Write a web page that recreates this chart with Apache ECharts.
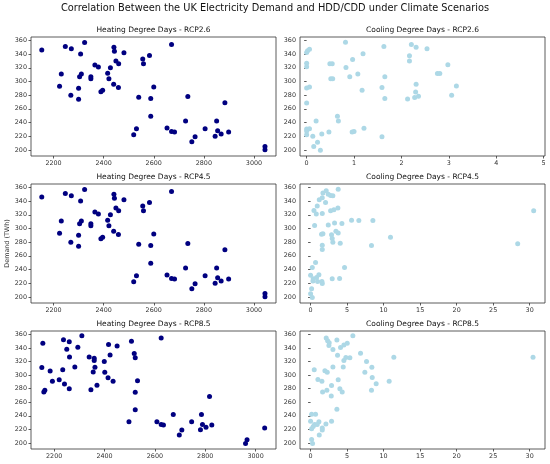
<!DOCTYPE html>
<html lang="en" style="height: 100%">
<head>
  <meta charset="utf-8">
</head>
<body style="height: 100%; margin: 0; background: #fff">
  <div id="container" style="width: 550px; height: 464px"></div>

  <script type="text/javascript" src="https://fastly.jsdelivr.net/npm/echarts@6/dist/echarts.min.js"></script>
  <script type="text/javascript">
    // [HDD or CDD, demand TWh], one array per panel
    var hdd26 = [
      [2153, 346], [2247, 351], [2271, 348], [2324, 357], [2308, 340], [2231, 311],
      [2224, 293], [2269, 280], [2300, 274], [2300, 290], [2304, 307], [2311, 311],
      [2349, 307], [2349, 304], [2365, 324], [2379, 321], [2389, 285], [2396, 287],
      [2416, 312], [2421, 304], [2427, 320], [2441, 350], [2443, 344], [2449, 330],
      [2460, 326], [2440, 296], [2459, 291], [2481, 342], [2540, 277], [2520, 222],
      [2531, 231], [2556, 333], [2559, 326], [2583, 338], [2588, 275], [2588, 249],
      [2600, 292], [2653, 232], [2671, 354], [2671, 227], [2683, 226], [2727, 242],
      [2736, 278], [2752, 212], [2765, 219], [2805, 231], [2845, 220], [2851, 242],
      [2855, 228], [2869, 223], [2884, 269], [2899, 226], [3044, 205], [3044, 200]
    ];
    var cdd26 = [
      [0, 342.5], [0.02, 345], [0.06, 347], [0, 326.5], [0, 321.5], [0, 290.5],
      [0.06, 292], [0, 268.5], [0, 230.5], [0, 227.5], [0, 222], [0.06, 231],
      [0.13, 220], [0.15, 205], [0.2, 242], [0.23, 211], [0.29, 199.5], [0.32, 223],
      [0.47, 226], [0.49, 326], [0.54, 326], [0.51, 304], [0.55, 304], [0.65, 249],
      [0.67, 242], [0.82, 357.5], [0.83, 320.5], [0.91, 307], [0.96, 226], [1.0, 227],
      [0.97, 332], [1.08, 311], [1.17, 287], [1.19, 340.5], [1.21, 231.5], [1.59, 291],
      [1.59, 219], [1.63, 351], [1.65, 307], [1.65, 275], [2.13, 274.5], [2.17, 337.5],
      [2.17, 330], [2.21, 354], [2.31, 350], [2.31, 296], [2.3, 284.5], [2.28, 276.5],
      [2.36, 278.5], [2.54, 348], [2.76, 311.5], [2.81, 311.5], [2.98, 324.5],
      [3.06, 280], [3.16, 293.5]
    ];
    var hdd45 = [
      [2153, 346], [2247, 351], [2271, 348], [2324, 357], [2308, 340], [2231, 311],
      [2224, 293], [2269, 280], [2300, 274], [2300, 290], [2304, 307], [2311, 311],
      [2349, 307], [2349, 304], [2365, 324], [2379, 321], [2389, 285], [2396, 287],
      [2416, 312], [2421, 304], [2427, 320], [2441, 350], [2443, 344], [2449, 330],
      [2460, 326], [2440, 296], [2459, 291], [2481, 342], [2540, 277], [2520, 222],
      [2531, 231], [2556, 333], [2559, 326], [2583, 338], [2588, 275], [2588, 249],
      [2600, 292], [2653, 232], [2671, 354], [2671, 227], [2683, 226], [2727, 242],
      [2736, 278], [2752, 212], [2765, 219], [2805, 231], [2845, 220], [2851, 242],
      [2855, 228], [2869, 223], [2884, 269], [2899, 226], [3044, 205], [3044, 200]
    ];
    var cdd45 = [
      [3.78, 357.5], [1.69, 352], [2.14, 355], [2.42, 350], [2.74, 348.3], [3.05, 347.8],
      [1.6, 345], [1.19, 342], [2.05, 338], [0.91, 333], [0.46, 326.3], [0.78, 321],
      [1.6, 322], [2.74, 326], [3.19, 327.3], [3.74, 330], [0.55, 304.4], [2.42, 305],
      [3.28, 307.8], [4.29, 307.3], [5.61, 312], [6.61, 311.7], [8.53, 311.7], [1.5, 291.7],
      [1.69, 292.2], [2.87, 290.7], [2.96, 285.4], [3.47, 296], [3.78, 293.2], [3.05, 280],
      [4.06, 278.5], [1.6, 275.6], [1.6, 269.3], [8.34, 275], [10.94, 287.3], [0.68, 250.2],
      [0.23, 243], [4.65, 243], [0, 231.7], [0.36, 226.3], [0.82, 228.3], [1.14, 232.2],
      [0.96, 222.4], [1.55, 222.4], [1.6, 219.5], [0.32, 223], [2.96, 226.3], [3.97, 226.8],
      [0.14, 211.7], [0, 204.4], [0.23, 199], [30.55, 326], [28.36, 277.6]
    ];
    var hdd85 = [
      [2155, 347], [2151, 311], [2184, 306], [2159, 275], [2163, 277.5], [2193, 291],
      [2220, 293], [2241, 287], [2234, 308], [2237, 352], [2250, 338], [2260, 349],
      [2261, 326.5], [2260, 280], [2282, 312], [2294, 341], [2310, 358], [2339, 326.5],
      [2359, 325], [2359, 321.5], [2362, 311.5], [2355, 304.5], [2346, 278.5], [2370, 285],
      [2399, 320], [2401, 304], [2414, 296], [2416, 345], [2422, 329.5], [2434, 291],
      [2450, 343], [2507, 350], [2518, 332], [2522, 325.5], [2522, 274.5], [2522, 249],
      [2531, 291.5], [2497, 231], [2608, 231], [2625, 354.5], [2625, 227], [2634, 226.5],
      [2673, 242], [2697, 211.5], [2707, 219], [2746, 231], [2781, 219.5], [2785, 242],
      [2789, 227], [2803, 223], [2817, 268.5], [2826, 226.5], [2960, 199], [2966, 204.5],
      [3036, 222]
    ];
    var cdd85 = [
      [5.79, 358], [2.14, 354.7], [2.33, 350.8], [3.6, 351.7], [2.55, 347.8], [5.02, 346.9],
      [2.51, 343.5], [4.56, 344.4], [4.1, 340.5], [3.06, 337.6], [4.83, 326], [4.56, 321.6],
      [5.38, 325.5], [3.69, 329.3], [6.84, 332.3], [7.66, 320.1], [11.4, 326.4], [30.46, 326.4],
      [0.5, 308], [1.96, 306.5], [2.28, 304.1], [3.06, 312], [4.47, 312], [7.43, 304.1],
      [8.39, 311.4], [8.44, 296.3], [8.98, 287.1], [10.76, 291], [8.34, 277.8], [1.0, 293.4],
      [1.55, 291], [2.87, 284.6], [3.78, 293.2], [4.01, 279.8], [4.33, 274.9], [1.64, 274.9],
      [2.23, 277.8], [2.83, 269.1], [3.6, 249.6], [0.14, 242.3], [0.68, 242.3], [0, 232.1],
      [1.14, 231.1], [2.87, 232.1], [0.55, 227.2], [0.91, 227.2], [2.1, 227.7], [0.14, 220.9],
      [1.6, 221.9], [1.6, 219], [0.36, 224.3], [1.19, 211.7], [0.14, 204.9], [0.27, 199]
    ];

    var demandTicks = [200, 220, 240, 260, 280, 300, 320, 340, 360];
    var hddTicks = [2200, 2400, 2600, 2800, 3000];
    var cdd26Ticks = [0, 1, 2, 3, 4, 5];
    var cddTicks = [0, 5, 10, 15, 20, 25, 30];

    var panelTitles = [
      'Heating Degree Days - RCP2.6', 'Cooling Degree Days - RCP2.6',
      'Heating Degree Days - RCP4.5', 'Cooling Degree Days - RCP4.5',
      'Heating Degree Days - RCP8.5', 'Cooling Degree Days - RCP8.5'
    ];

    var panels = [
      { data: hdd26, ticks: hddTicks, min: 2110, max: 3088, color: '#000080' },
      { data: cdd26, ticks: cdd26Ticks, min: -0.14, max: 5.03, color: '#add8e6' },
      { data: hdd45, ticks: hddTicks, min: 2110, max: 3088, color: '#000080' },
      { data: cdd45, ticks: cddTicks, min: -1.45, max: 32.1, color: '#add8e6' },
      { data: hdd85, ticks: hddTicks, min: 2108, max: 3081, color: '#000080' },
      { data: cdd85, ticks: cddTicks, min: -1.45, max: 32.1, color: '#add8e6' }
    ];

    var lefts = [31, 300];
    var tops = [37, 184, 331];
    var font = 'DejaVu Sans';
    var tickColor = '#333';

    // plain numbers, no thousands separator
    function plain(v) { return String(v); }

    var grids = [], xAxes = [], yAxes = [], series = [];
    var titles = [{
      text: 'Correlation Between the UK Electricity Demand and HDD/CDD under Climate Scenarios',
      left: 'center',
      top: 3,
      padding: 0,
      textStyle: { fontFamily: font, fontSize: 9.8, fontWeight: 'normal', color: '#111' }
    }];

    panels.forEach(function (p, i) {
      var col = i % 2, row = Math.floor(i / 2);
      grids.push({
        left: lefts[col], top: tops[row], width: 245, height: row === 2 ? 118 : 119,
        show: true, borderColor: '#333', borderWidth: 0.8
      });
      titles.push({
        text: panelTitles[i],
        left: lefts[col] + 122.5,
        top: tops[row] - 11,
        padding: 0,
        textAlign: 'center',
        textStyle: { fontFamily: font, fontSize: 7.5, fontWeight: 'normal', color: '#111' }
      });
      xAxes.push({
        type: 'value', gridIndex: i, min: p.min, max: p.max,
        axisLine: { show: false },
        splitLine: { show: false },
        axisTick: { show: true, length: 2.5, lineStyle: { color: '#333', width: 0.8 }, customValues: p.ticks },
        axisLabel: { customValues: p.ticks, formatter: plain, fontFamily: font, fontSize: 6.4, color: tickColor, margin: 4 }
      });
      yAxes.push({
        type: 'value', gridIndex: i, min: 191, max: 365,
        name: i === 2 ? 'Demand (TWh)' : '',
        nameLocation: 'middle', nameGap: 21,
        nameTextStyle: { fontFamily: font, fontSize: 6.4, color: tickColor },
        axisLine: { show: false },
        splitLine: { show: false },
        axisTick: { show: true, length: 2.5, lineStyle: { color: '#333', width: 0.8 }, customValues: demandTicks },
        axisLabel: { customValues: demandTicks, formatter: plain, fontFamily: font, fontSize: 6.4, color: tickColor, margin: 4 }
      });
      series.push({
        type: 'scatter', xAxisIndex: i, yAxisIndex: i,
        data: p.data, symbolSize: 5,
        itemStyle: { color: p.color, opacity: 1 },
        animation: false
      });
    });

    var myChart = echarts.init(document.getElementById('container'), null, { renderer: 'canvas' });
    myChart.setOption({
      animation: false,
      backgroundColor: '#fff',
      title: titles,
      grid: grids,
      xAxis: xAxes,
      yAxis: yAxes,
      series: series
    });
  </script>
</body>
</html>
